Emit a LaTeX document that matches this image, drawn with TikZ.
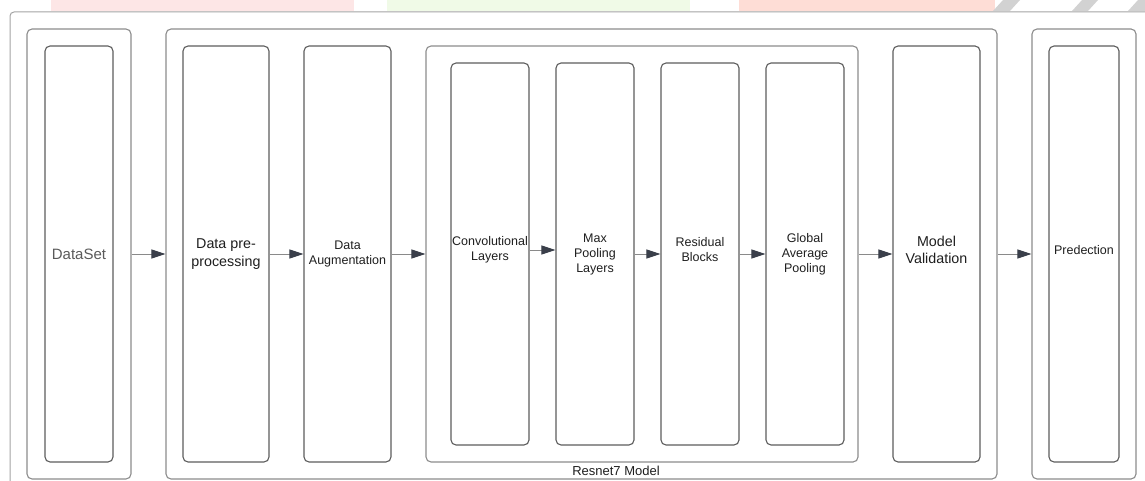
\documentclass[tikz,border=0pt]{standalone}
\usepackage{fontspec}
\setmainfont{Liberation Sans}
\usetikzlibrary{arrows.meta}
\definecolor{framec}{HTML}{A3A3A3}
\definecolor{groupc}{HTML}{8C8C8C}
\definecolor{leafc}{HTML}{5C5C5C}
\definecolor{arrowc}{HTML}{3A3F4A}
\definecolor{linec}{HTML}{8A8A8A}
\definecolor{txtc}{HTML}{1E1E1E}
\definecolor{dstxt}{HTML}{5A5A5A}
\definecolor{wmpink}{HTML}{FDE6E6}
\definecolor{wmpinkb}{HTML}{FEDDD6}
\definecolor{wmgreen}{HTML}{F0FAE7}
\definecolor{wmgray}{HTML}{D2D2D2}
\tikzset{
  groupbox/.style={draw=groupc, line width=1.1pt, rounded corners=5pt, inner sep=0pt},
  leafbox/.style={draw=leafc, line width=1.1pt, rounded corners=5pt, inner sep=0pt, align=center, text=txtc},
  boxtxt/.style={align=center, text=txtc, inner sep=0pt},
  smalltxt/.style={font=\fontsize{12.5}{15}\selectfont},
  bigtxt/.style={font=\fontsize{14.3}{17.5}\selectfont},
  arr/.style={draw=linec, line width=0.8pt, -{Triangle[length=14pt,width=9pt,color=arrowc,fill=arrowc]}}
}
\begin{document}
\begin{tikzpicture}[x=1pt,y=-1pt]
\useasboundingbox (0,0) rectangle (1145,481);
% faint watermark remnants at the top
\fill[wmpink] (51,0) rectangle (354,11);
\fill[wmgreen] (387,0) rectangle (690,11);
\fill[wmpinkb] (739,0) rectangle (995,11);
\fill[wmgray] (993,11) -- (1003,0) -- (1020,0) -- (1010,11) -- cycle;
\fill[wmgray] (1072,11) -- (1082,0) -- (1098,0) -- (1088,11) -- cycle;
\fill[wmgray] (1128,11) -- (1138,0) -- (1145,0) -- (1145,11) -- cycle;
% outer frame (continues beyond the picture)
\draw[draw=framec, line width=1pt, rounded corners=4pt] (10,495) -- (10,12) -- (1160,12);
% groups
\node[groupbox, minimum width=104pt, minimum height=450pt] (dsg) at (79,254) {};
\node[groupbox, minimum width=831pt, minimum height=450pt] (rg) at (581.5,254) {};
\node[groupbox, minimum width=432pt, minimum height=416pt] (ig) at (642,254) {};
\node[groupbox, minimum width=104pt, minimum height=450pt] (pg) at (1084,254) {};
% leaf boxes
\node[leafbox, minimum width=68pt, minimum height=416pt, font=\fontsize{15}{18}\selectfont, text=dstxt] (ds) at (79,254) {DataSet};
\node[leafbox, bigtxt, minimum width=86pt, minimum height=416pt] (dp) at (226,254) {Data pre-\\processing};
\node[leafbox, smalltxt, minimum width=87pt, minimum height=416pt] (da) at (347.5,254) {Data\\Augmentation};
\node[leafbox, minimum width=78pt, minimum height=382pt] (conv) at (490,254) {};
\node[boxtxt, smalltxt] (convt) at (490,249.5) {Convolutional\\Layers};
\node[leafbox, smalltxt, minimum width=78pt, minimum height=382pt] (maxp) at (595,254) {Max\\Pooling\\Layers};
\node[leafbox, minimum width=78pt, minimum height=382pt] (res) at (700,254) {};
\node[boxtxt, smalltxt] (rest) at (700,249.5) {Residual\\Blocks};
\node[leafbox, smalltxt, minimum width=78pt, minimum height=382pt] (gap) at (805,254) {Global\\Average\\Pooling};
\node[leafbox, minimum width=87pt, minimum height=416pt] (mv) at (936.5,254) {};
\node[boxtxt, bigtxt] (mvt) at (936.5,250) {Model\\Validation};
\node[leafbox, minimum width=70pt, minimum height=416pt] (pr) at (1084,254) {};
\node[boxtxt, smalltxt] (prt) at (1084,250) {Predection};
% group label
\node[text=txtc, font=\fontsize{13}{15}\selectfont, inner sep=0pt] (rglabel) at (616,471) {Resnet7 Model};
% connectors
\draw[arr] (dsg.east) -- (rg.west);
\draw[arr] (dp.east) -- (da.west);
\draw[arr] (da.east) -- (ig.west);
\draw[arr] ([yshift=4pt]conv.east) -- ([yshift=4pt]maxp.west);
\draw[arr] (maxp.east) -- (res.west);
\draw[arr] (res.east) -- (gap.west);
\draw[arr] (ig.east) -- (mv.west);
\draw[arr] (rg.east) -- (pg.west);
\end{tikzpicture}
\end{document}
